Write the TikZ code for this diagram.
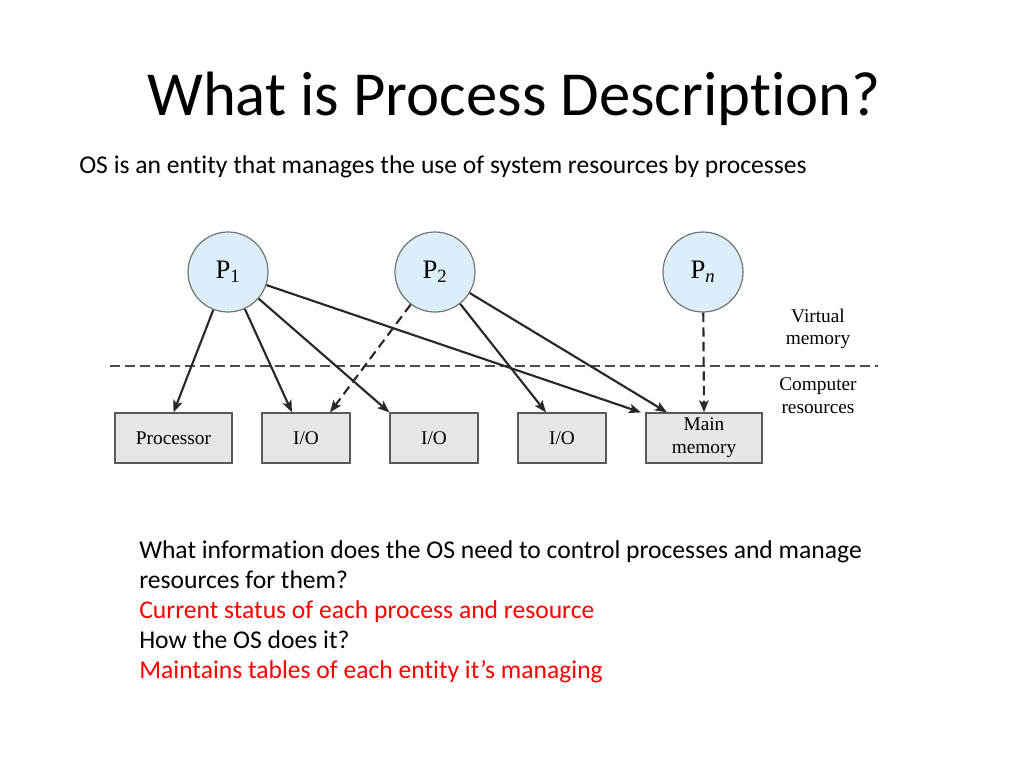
\documentclass[tikz,border=0pt]{standalone}
\usepackage{fontspec}
\setmainfont{Carlito}[Ligatures=NoCommon]
\newfontfamily\diagfont{Liberation Serif}
\usepackage{tikz}
\usetikzlibrary{arrows.meta, calc, positioning}
\usepackage{xcolor}
\definecolor{procblue}{RGB}{220,238,250}
\definecolor{resgray}{RGB}{230,230,230}
\definecolor{linegray}{RGB}{40,40,40}
\definecolor{slidered}{RGB}{255,0,0}

\tikzset{
  proc/.style={circle, draw=black!55, fill=procblue, line width=0.9pt,
    minimum size=60pt, inner sep=0pt, font=\diagfont\fontsize{20}{22}\selectfont},
  res/.style={rectangle, draw=black!65, fill=resgray, line width=0.9pt,
    minimum height=37.5pt, inner sep=0pt, align=center,
    font=\diagfont\fontsize{14.5}{17}\selectfont},
  use/.style={-{Stealth[length=9pt,width=7pt,inset=2pt]}, draw=linegray, line width=1.6pt},
  vuse/.style={use, dash pattern=on 7pt off 4pt},
  side/.style={align=center, font=\diagfont\fontsize{14.5}{17}\selectfont},
  line/.style={anchor=base west, inner sep=0pt, font=\fontsize{19.2}{23}\selectfont}
}

\begin{document}
\begin{tikzpicture}[x=0.75pt, y=-0.75pt]
\useasboundingbox (0,0) rectangle (1024,768);

% slide text
\node (title) [anchor=base west, inner sep=0pt, font=\fontsize{47}{56}\selectfont]
  at (147,115) {What is Process Description?};
\node (sub) [line] at (79,173) {OS is an entity that manages the use of system resources by processes};

% processes
\node (P1) [proc] at (228,272) {P\textsubscript{1}};
\node (P2) [proc] at (435,272) {P\textsubscript{2}};
\node (Pn) [proc] at (703,272) {P\textsubscript{\itshape n}};

% resources
\node (cpu) [res, minimum width=87.75pt] at (173.5,438) {Processor};
\node (io1) [res, minimum width=66pt] at (306,438) {I/O};
\node (io2) [res, minimum width=66pt] at (434,438) {I/O};
\node (io3) [res, minimum width=66pt] at (562,438) {I/O};
\node (mem) [res, minimum width=87pt] at (704,438) {\raisebox{-3pt}{Main}\\\raisebox{-3pt}{memory}};

% virtual / real boundary
\draw[black!70, line width=0.9pt, dash pattern=on 7.5pt off 3.75pt] (110,366) -- (878,366);
\node (virt) [side] at (818,329) {Virtual\\memory};
\node (comp) [side] at (818,396) {Computer\\resources};

% who uses what
\draw[use] (P1) -- (cpu.north);
\draw[use] (P1) -- ($(io1.north)+(-14,0)$);
\draw[use] (P1) -- (io2.north west);
\draw[use] (P1) -- ($(mem.north)+(-63,0)$);
\draw[vuse] (P2) -- ($(io1.north)+(24,0)$);
\draw[use] (P2) -- ($(io3.north)+(-16,0)$);
\draw[use] (P2) -- ($(mem.north)+(-37,0)$);
\draw[vuse] (Pn) -- (mem.north);

% questions
\node (q1) [line] at (139,558) {What information does the OS need to control processes and manage};
\node (q2) [line] at (139,588) {resources for them?};
\node (a1) [line, text=slidered] at (139,618) {Current status of each process and resource};
\node (q3) [line] at (139,648) {How the OS does it?};
\node (a2) [line, text=slidered] at (139,678) {Maintains tables of each entity it’s managing};
\end{tikzpicture}
\end{document}
